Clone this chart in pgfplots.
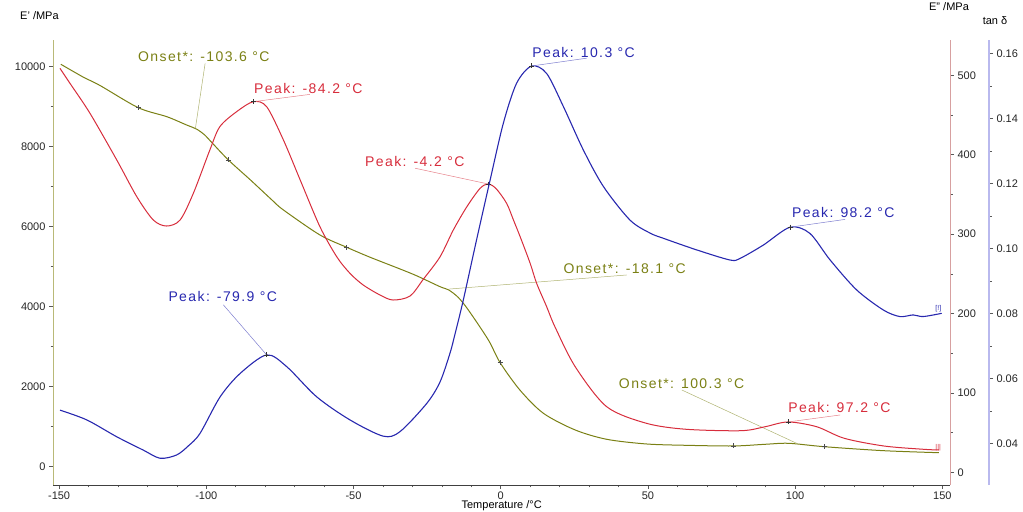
\documentclass[border=0pt]{standalone}
\usepackage{fontspec}
\setmainfont{Liberation Sans}
\newfontfamily\annfont[LetterSpace=10]{Liberation Sans}
\usepackage{pgfplots}
\pgfplotsset{compat=1.18}
\definecolor{olivec}{RGB}{122,128,20}
\definecolor{redc}{RGB}{215,45,60}
\definecolor{bluec}{RGB}{40,40,175}
\definecolor{eaxis}{RGB}{185,185,120}
\definecolor{e2axis}{RGB}{215,160,160}
\definecolor{taxis}{RGB}{185,185,238}
\newcommand{\ann}{\annfont\fontsize{14bp}{16bp}\selectfont}
\begin{document}
\begin{tikzpicture}
\useasboundingbox (0,0) rectangle (1023bp,512bp);
\pgfplotsset{
  common/.style={scale only axis, height=445bp, xmin=-152.07,
    at={(53bp,27bp)}, anchor=south west, clip=false,
    tick align=outside, major tick length=4bp, minor tick length=2.5bp,
    tick style={black!65, line width=0.5bp},
    ticklabel style={font=\fontsize{11bp}{13bp}\selectfont, text=black!85},
    scaled ticks=false,
    /pgf/number format/assume math mode=true,
    /pgf/number format/set thousands separator={},
    axis line style={-},
  },
}
% ---------- E' axis ----------
\begin{axis}[common, width=897bp, xmax=152.6, ymin=-457.5, ymax=10667.5,
  axis x line*=bottom, axis y line*=left,
  x axis line style={black!75, line width=0.7bp},
  y axis line style={eaxis, line width=1bp},
  xtick={-150,-100,-50,0,50,100,150}, minor x tick num=4,
  ytick={0,2000,4000,6000,8000,10000}, minor y tick num=1,
  xticklabel style={yshift=1bp}]
\addplot[olivec, line width=1bp, smooth] coordinates {
(-149.4,10060) (-141.8,9740) (-136.1,9530) (-123.1,8975) (-113.4,8750)
(-106.7,8543) (-103.3,8440) (-100.5,8290) (-98.2,8110) (-92.5,7668)
(-85.0,7168) (-77.7,6668) (-73.8,6418) (-61.4,5793) (-52.3,5485)
(-44.6,5243) (-34.2,4943) (-28.4,4768) (-20.6,4500) (-17.7,4420)
(-14.4,4230) (-11.0,3918) (-4.2,3168) (-0.2,2600) (6.5,1918) (14.5,1335)
(25.3,918) (36.0,685) (49.5,568) (62.9,535) (79.0,518) (89.8,560)
(97.8,585) (109.9,500) (130.1,400) (148.8,350)};
\addplot[only marks, mark=+, mark size=2.5bp, black!70, mark options={line width=0.5bp}] coordinates {
(-123.1,8975) (-92.5,7668) (-52.3,5485) (-0.2,2600) (79.0,518) (109.9,500)};
\draw[olivec!60, line width=0.5bp] (axis cs:-100.4,10085) -- (axis cs:-103.7,8460);
\node[anchor=west, inner sep=0, text=olivec, font=\ann] at (axis cs:-123.2,10243) {Onset*: -103.6 °C};
\draw[olivec!60, line width=0.5bp] (axis cs:-17.7,4440) -- (axis cs:42.8,4793);
\node[anchor=west, inner sep=0, text=olivec, font=\ann] at (axis cs:21.3,4943) {Onset*: -18.1 °C};
\draw[olivec!60, line width=0.5bp] (axis cs:61.5,1918) -- (axis cs:100.5,585);
\node[anchor=west, inner sep=0, text=olivec, font=\ann] at (axis cs:40.1,2068) {Onset*: 100.3 °C};
\end{axis}
% ---------- E'' axis ----------
\begin{axis}[common, width=897bp, xmax=152.6, ymin=-16.0, ymax=544.5,
  axis y line*=right, axis x line=none,
  y axis line style={e2axis, line width=1bp},
  ytick={0,100,200,300,400,500}, minor y tick num=1]
\addplot[redc, line width=1bp, smooth] coordinates {
(-149.7,508.8) (-146.3,489.9) (-139.5,452.1) (-130.4,393.3) (-123.6,347.1)
(-118.0,317.8) (-113.5,310.2) (-108.9,317.8) (-104.4,351.4) (-98.8,405.9)
(-95.4,435.3) (-89.7,454.2) (-84.0,466.8) (-79.5,460.5) (-73.8,418.5)
(-68.1,368.1) (-61.4,309.3) (-55.7,271.5) (-51.2,250.6) (-46.7,235.9)
(-41.0,223.3) (-36.6,217.0) (-30.8,222.0) (-26.3,243.1) (-20.6,271.5)
(-16.1,305.2) (-11.5,334.5) (-7.0,357.7) (-4.2,363.1) (-1.5,357.0)
(2.0,338.8) (4.3,318.0) (6.6,296.7) (10.0,263.2) (12.2,238.0) (15.6,208.6)
(18.4,183.4) (25.3,133.0) (36.0,82.6) (49.5,61.7) (62.9,54.2)
(81.7,52.4) (89.8,57.4) (97.6,63.4) (107.3,57.4) (116.7,42.8)
(130.2,33.1) (143.5,29.0) (148.8,28.1)};
\addplot[only marks, mark=+, mark size=2.5bp, black!80, mark options={line width=0.5bp}] coordinates {
(-84.0,466.8) (-4.2,363.1) (97.6,63.4)};
\draw[redc!60, line width=0.5bp] (axis cs:-84.0,466.8) -- (axis cs:-64.8,476);
\node[anchor=west, inner sep=0, text=redc, font=\ann] at (axis cs:-83.8,484) {Peak: -84.2 °C};
\draw[redc!60, line width=0.5bp] (axis cs:-29.1,383.0) -- (axis cs:-4.2,363.1);
\node[anchor=west, inner sep=0, text=redc, font=\ann] at (axis cs:-46.1,391.2) {Peak: -4.2 °C};
\draw[redc!60, line width=0.5bp] (axis cs:97.6,63.4) -- (axis cs:115.3,72.2);
\node[anchor=west, inner sep=0, text=redc, font=\ann] at (axis cs:97.6,81.4) {Peak: 97.2 °C};
\node[anchor=west, inner sep=0, text=redc, font=\fontsize{7bp}{8bp}\selectfont] at (axis cs:147.6,31.5) {|||};
\end{axis}
% ---------- tan delta axis ----------
\begin{axis}[common, width=936bp, xmax=165.86, ymin=0.02717, ymax=0.16410,
  axis y line*=right, axis x line=none,
  y axis line style={taxis, line width=2bp},
  ytick={0.04,0.06,0.08,0.10,0.12,0.14,0.16}, minor y tick num=1,
  yticklabel style={/pgf/number format/.cd, fixed, fixed zerofill, precision=2}]
\addplot[bluec, line width=1.1bp, smooth] coordinates {
(-149.7,0.0502) (-140.6,0.0472) (-130.4,0.0420) (-121.4,0.0379) (-115.7,0.0354)
(-110.1,0.0364) (-106.1,0.0392) (-102.1,0.0431) (-95.3,0.0543) (-88.5,0.0615)
(-79.5,0.0672) (-72.7,0.0636) (-62.5,0.0543) (-51.2,0.0472) (-39.9,0.0422)
(-34.2,0.0436) (-25.1,0.0523) (-20.6,0.0589) (-17.2,0.0678) (-15.5,0.0737)
(-12.7,0.0841) (-8.2,0.1026) (-3.6,0.1210) (0.9,0.1385) (5.4,0.1508)
(10.5,0.1561) (15.6,0.1538) (21.3,0.1436) (28.1,0.1302) (34.9,0.1190)
(43.9,0.1087) (50.7,0.1047) (55.2,0.1031) (66.6,0.0995) (77.9,0.0964)
(81.3,0.0969) (89.2,0.1010) (98.3,0.1065) (105.0,0.1046) (111.9,0.0964)
(120.9,0.0872) (130.0,0.0810) (135.6,0.0790) (140.1,0.0795) (143.5,0.0790)
(149.8,0.0800)};
\addplot[only marks, mark=+, mark size=2.5bp, black!80, mark options={line width=0.5bp}] coordinates {
(-79.5,0.0672) (10.5,0.1561) (98.3,0.1065)};
\draw[bluec!60, line width=0.5bp] (axis cs:10.5,0.1561) -- (axis cs:29.2,0.1585);
\node[anchor=west, inner sep=0, text=bluec, font=\ann] at (axis cs:10.7,0.1604) {Peak: 10.3 °C};
\draw[bluec!60, line width=0.5bp] (axis cs:98.3,0.1065) -- (axis cs:117.0,0.1089);
\node[anchor=west, inner sep=0, text=bluec, font=\ann] at (axis cs:98.9,0.1111) {Peak: 98.2 °C};
\draw[bluec!60, line width=0.5bp] (axis cs:-94.2,0.0826) -- (axis cs:-79.5,0.0672);
\node[anchor=west, inner sep=0, text=bluec, font=\ann] at (axis cs:-112.9,0.0853) {Peak: -79.9 °C};
\node[anchor=west, inner sep=0, text=bluec, font=\fontsize{7bp}{8bp}\selectfont] at (axis cs:147.6,0.0815) {[!]};
\end{axis}
% axis titles
\node[anchor=west, inner sep=0, font=\fontsize{11bp}{13bp}\selectfont] at (20bp,496bp) {E\char"27\ /MPa};
\node[inner sep=0, font=\fontsize{11bp}{13bp}\selectfont] at (949bp,505bp) {E\char"22\ /MPa};
\node[inner sep=0, font=\fontsize{11bp}{13bp}\selectfont] at (995bp,491bp) {tan δ};
\node[inner sep=0, font=\fontsize{11bp}{13bp}\selectfont] at (501.7bp,6bp) {Temperature /°C};
\end{tikzpicture}
\end{document}
